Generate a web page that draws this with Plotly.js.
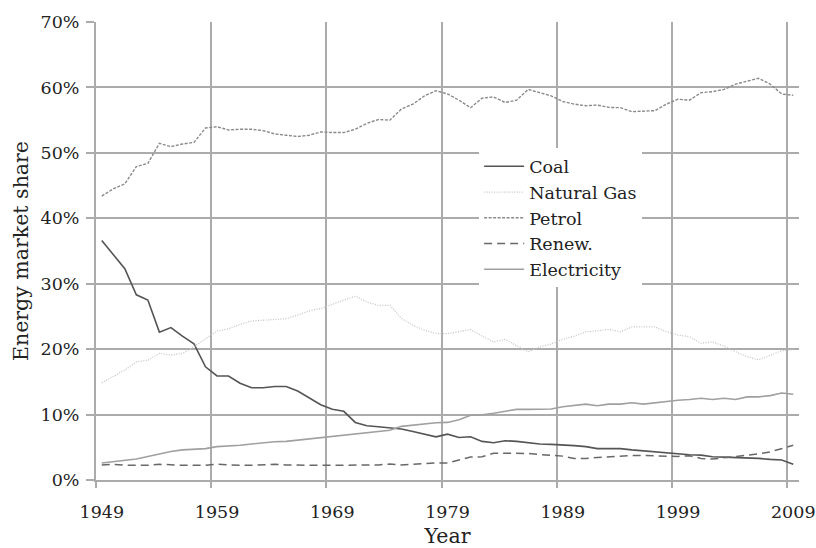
<!DOCTYPE html>
<html>
<head>
<meta charset="utf-8">
<script src="https://cdn.plot.ly/plotly-3.0.1.min.js"></script>
<style>html,body{margin:0;padding:0;background:#fff;}#chart{width:816px;height:548px;}</style>
</head>
<body>
<div id="chart"></div>
<script>
const years = [1949,1950,1951,1952,1953,1954,1955,1956,1957,1958,1959,1960,1961,1962,1963,1964,1965,1966,1967,1968,1969,1970,1971,1972,1973,1974,1975,1976,1977,1978,1979,1980,1981,1982,1983,1984,1985,1986,1987,1988,1989,1990,1991,1992,1993,1994,1995,1996,1997,1998,1999,2000,2001,2002,2003,2004,2005,2006,2007,2008,2009];

const coal = [36.6,34.5,32.3,28.3,27.5,22.6,23.3,22.0,20.8,17.3,15.9,15.9,14.8,14.1,14.1,14.3,14.3,13.6,12.5,11.5,10.8,10.5,8.8,8.3,8.15,8.0,7.8,7.4,7.0,6.6,7.0,6.5,6.6,5.9,5.7,6.0,5.9,5.7,5.5,5.45,5.4,5.25,5.1,4.8,4.8,4.8,4.6,4.45,4.3,4.1,3.95,3.85,3.8,3.55,3.5,3.45,3.4,3.3,3.15,3.05,2.4];

const naturalGas = [14.85,15.8,16.8,18.05,18.3,19.35,19.1,19.35,20.35,21.6,22.75,23.1,23.8,24.3,24.45,24.55,24.65,25.2,25.85,26.2,26.9,27.5,28.1,27.2,26.7,26.7,24.7,23.65,22.9,22.4,22.35,22.65,23.0,22.0,21.1,21.5,20.6,19.6,20.35,20.8,21.5,22.0,22.65,22.8,23.0,22.65,23.4,23.4,23.4,22.65,22.15,21.9,20.9,21.1,20.45,19.6,18.85,18.35,19.1,19.75,19.95];

const petrol = [43.4,44.5,45.25,47.9,48.4,51.45,50.95,51.35,51.6,53.8,54.0,53.5,53.6,53.6,53.4,52.9,52.7,52.5,52.7,53.2,53.1,53.1,53.6,54.5,55.1,55.0,56.7,57.45,58.7,59.5,59.0,58.05,56.9,58.35,58.55,57.7,58.05,59.7,59.2,58.7,57.85,57.45,57.2,57.3,56.95,56.9,56.3,56.4,56.45,57.45,58.2,58.05,59.2,59.35,59.7,60.5,61.0,61.4,60.5,59.0,58.8];

const renew = [2.3,2.4,2.25,2.25,2.25,2.4,2.3,2.25,2.25,2.25,2.4,2.3,2.25,2.25,2.3,2.4,2.3,2.25,2.25,2.25,2.25,2.25,2.25,2.25,2.3,2.45,2.3,2.4,2.55,2.6,2.6,3.1,3.5,3.55,4.1,4.1,4.1,4.05,3.9,3.8,3.65,3.3,3.3,3.45,3.55,3.7,3.75,3.75,3.7,3.6,3.6,3.7,3.3,3.2,3.4,3.55,3.75,4.0,4.3,4.8,5.3];

const electricity = [2.6,2.8,3.0,3.2,3.6,4.0,4.35,4.6,4.75,4.8,5.1,5.15,5.3,5.5,5.7,5.85,5.9,6.1,6.3,6.5,6.7,6.9,7.0,7.2,7.4,7.6,8.2,8.4,8.6,8.75,8.8,9.2,9.9,9.95,10.2,10.5,10.8,10.8,10.8,10.85,11.2,11.4,11.6,11.35,11.6,11.6,11.8,11.6,11.8,12.1,12.2,12.3,12.5,12.3,12.5,12.3,12.7,12.7,12.9,13.3,13.1];

const tickYears = [1949,1959,1969,1979,1989,1999,2009];
const tickLabels = ['1949','1959','1969','1979','1989','1999','2009'];
const gridYears = [1948.5,1958.5,1968.5,1978.5,1988.5,1998.5,2008.5];

const seriesNames = ['Coal','Natural Gas','Petrol','Renew.','Electricity'];

const styles = [
  {color:'#555555', width:1.6, dash:'solid'},
  {color:'#c4c4c4', width:1.3, dash:'1px,1.5px'},
  {color:'#8a8a8a', width:1.4, dash:'3px,1.5px'},
  {color:'#686868', width:1.5, dash:'8px,5px'},
  {color:'#a0a0a0', width:1.6, dash:'solid'}
];
const seriesData = [coal, naturalGas, petrol, renew, electricity];

const traces = seriesData.map((d,i)=>({
  x: years, y: d, type:'scatter', mode:'lines', name: seriesNames[i],
  line: styles[i], hoverinfo:'skip'
}));

const gridColor = '#ababab';
const font = 'DejaVu Serif, serif';
const textColor = '#222222';

const layout = {
  width:816, height:548,
  margin:{l:96, r:17, t:22, b:68, pad:0},
  paper_bgcolor:'#ffffff', plot_bgcolor:'#ffffff',
  font:{family:font, size:17, color:textColor},
  showlegend:true,
  legend:{x:0.545, y:0.724, xanchor:'left', yanchor:'top', bgcolor:'#ffffff', itemwidth:40,
          font:{family:font, size:17.5, color:textColor}, tracegroupgap:0},
  xaxis:{
    range:[1948.5, 2009.5], tickmode:'array', tickvals:tickYears, ticktext:tickLabels,
    showgrid:false, zeroline:false, ticks:'', showline:true, linecolor:gridColor, linewidth:2,
    ticklabelstandoff:15,
    tickfont:{family:font, size:17.5, color:textColor},
    minor:{tickmode:'array', tickvals:gridYears, showgrid:true, gridcolor:gridColor, gridwidth:2,
           ticks:'outside', ticklen:6, tickcolor:gridColor, tickwidth:2},
    title:{text:'Year', font:{family:font, size:20.5, color:textColor}, standoff:8}
  },
  yaxis:{
    range:[0,70], tickmode:'linear', tick0:0, dtick:10, ticksuffix:'%',
    showgrid:true, gridcolor:gridColor, gridwidth:2, zeroline:false,
    showline:true, linecolor:gridColor, linewidth:2,
    ticks:'outside', ticklen:8, tickcolor:gridColor, tickwidth:2,
    ticklabelstandoff:3,
    tickfont:{family:font, size:17.5, color:textColor},
    title:{text:'Energy market share', font:{family:font, size:20.5, color:textColor}, standoff:6}
  }
};

Plotly.newPlot('chart', traces, layout, {staticPlot:true, displayModeBar:false});
</script>
</body>
</html>
